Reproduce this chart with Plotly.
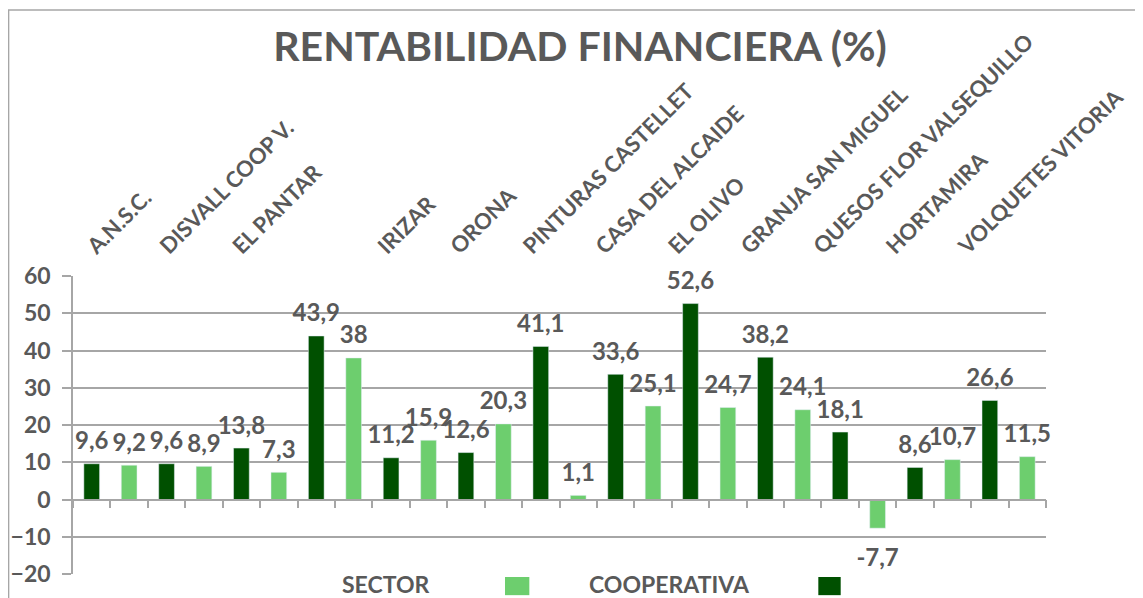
import plotly.graph_objects as go

# datos
empresas = ["A.N.S.C.", "DISVALL COOP V.", "EL PANTAR", "", "IRIZAR", "ORONA",
            "PINTURAS CASTELLET", "CASA DEL ALCAIDE", "EL OLIVO", "GRANJA SAN MIGUEL",
            "QUESOS FLOR VALSEQUILLO", "HORTAMIRA", "VOLQUETES VITORIA"]
cooperativa = [9.6, 9.6, 13.8, 43.9, 11.2, 12.6, 41.1, 33.6, 52.6, 38.2, 18.1, 8.6, 26.6]
sector = [9.2, 8.9, 7.3, 38, 15.9, 20.3, 1.1, 25.1, 24.7, 24.1, -7.7, 10.7, 11.5]

OSCURO = "#005000"
CLARO = "#6dce6e"
GRIS = "#595959"
LINEA = "#a6a6a6"
FUENTE = "Lato"

# cada barra ocupa su propia posicion: cooperativa en pares, sector en impares
x_coop = [2 * i for i in range(len(cooperativa))]
x_sect = [2 * i + 1 for i in range(len(sector))]


def fmt(v):
    return f"{v:g}".replace(".", ",")


fig = go.Figure()
fig.add_trace(go.Bar(x=x_coop, y=cooperativa, name="COOPERATIVA", width=0.42,
                     marker_color=OSCURO, hoverinfo="y"))
fig.add_trace(go.Bar(x=x_sect, y=sector, name="SECTOR", width=0.42,
                     marker_color=CLARO, hoverinfo="y"))

# etiquetas de datos (las negativas van mas separadas de la barra)
todos_x = x_coop + x_sect
todos_y = cooperativa + sector
fig.add_trace(go.Scatter(
    x=todos_x, y=todos_y, mode="markers+text",
    text=[fmt(v) for v in todos_y],
    textposition=["top center" if v >= 0 else "bottom center" for v in todos_y],
    marker=dict(size=[12 if v >= 0 else 30 for v in todos_y], opacity=0),
    textfont=dict(family=FUENTE, size=24, color=GRIS, weight="bold"),
    cliponaxis=False, hoverinfo="skip", showlegend=False))

# eje superior con los nombres de las empresas
fig.add_trace(go.Scatter(x=list(range(len(empresas))), y=[None] * len(empresas),
                         xaxis="x2", mode="markers", showlegend=False, hoverinfo="skip"))

# la pagina tiene 8 px de margen, la figura se reduce para caber en la ventana
fig.update_layout(
    width=1135, height=590,
    margin=dict(l=65, r=97, t=268, b=24, autoexpand=False),
    paper_bgcolor="white", plot_bgcolor="white",
    barmode="overlay", showlegend=False,
    title=dict(text="<b>RENTABILIDAD FINANCIERA (%)</b>", x=0.504, xanchor="center",
               y=0.934, yanchor="middle",
               font=dict(family=FUENTE, size=41, color=GRIS)),
    xaxis=dict(range=[-0.5, 25.5], anchor="free", position=0.25, automargin=False,
               showline=True, linecolor=LINEA, linewidth=1.5,
               tickvals=[i - 0.5 for i in range(27)], ticks="outside", ticklen=8,
               tickcolor=LINEA, tickwidth=1.5, showticklabels=False,
               showgrid=False, zeroline=False),
    xaxis2=dict(overlaying="x", side="top", anchor="y", range=[-0.22, 13.18],
                automargin=False,
                tickvals=list(range(len(empresas))), ticktext=empresas,
                tickangle=-45, ticks="", ticklabelstandoff=12,
                tickfont=dict(family=FUENTE, size=22, color=GRIS, weight="bold"),
                showgrid=False, zeroline=False, showline=False),
    yaxis=dict(range=[-20, 60], dtick=10, showgrid=True, gridcolor=LINEA, gridwidth=1.5,
               showline=True, linecolor=LINEA, linewidth=1.5, zeroline=False,
               automargin=False, ticklabelstandoff=7,
               ticks="outside", ticklen=9, tickcolor=LINEA, tickwidth=1.5,
               tickfont=dict(family=FUENTE, size=23, color=GRIS, weight="bold")),
)

# borde del grafico
fig.add_shape(type="rect", xref="paper", yref="paper", x0=-0.0662, y0=-0.5, x1=1.3, y1=1.893,
              line=dict(color=LINEA, width=1.5), layer="below")

# leyenda (texto seguido de la muestra de color)
fig.add_annotation(text="<b>SECTOR</b>", xref="paper", yref="paper", x=0.274, y=0.02,
                   xanchor="left", yanchor="top", showarrow=False,
                   font=dict(family=FUENTE, size=23, color=GRIS))
fig.add_shape(type="rect", xref="paper", yref="paper", x0=0.444, x1=0.469, y0=-0.071, y1=-0.01,
              fillcolor=CLARO, line=dict(width=0))
fig.add_annotation(text="<b>COOPERATIVA</b>", xref="paper", yref="paper", x=0.528, y=0.02,
                   xanchor="left", yanchor="top", showarrow=False,
                   font=dict(family=FUENTE, size=23, color=GRIS))
fig.add_shape(type="rect", xref="paper", yref="paper", x0=0.766, x1=0.789, y0=-0.071, y1=-0.01,
              fillcolor=OSCURO, line=dict(width=0))

fig.write_html("out.html")
